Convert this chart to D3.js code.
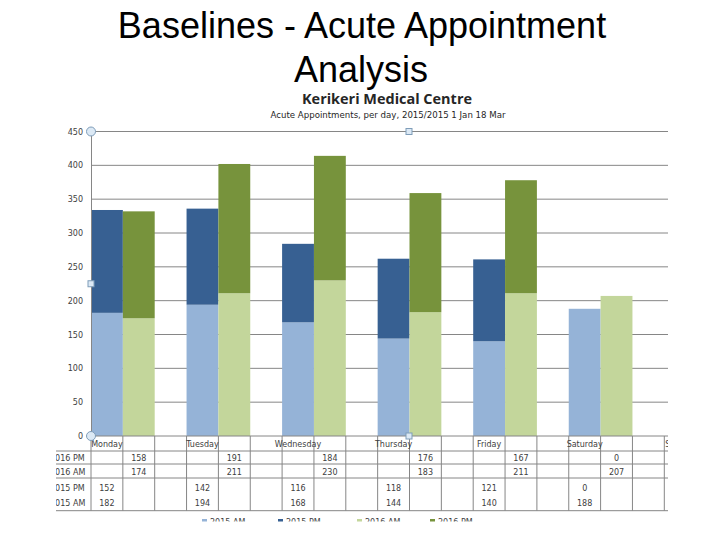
<!DOCTYPE html>
<html>
<head>
<meta charset="utf-8">
<script src="https://cdn.jsdelivr.net/npm/d3@7"></script>
<style>
  body { margin: 0; background: #fff; }
  svg { display: block; }
</style>
</head>
<body>
<svg id="chart" width="720" height="540"></svg>
<script>
// values
const days = ["Monday", "Tuesday", "Wednesday", "Thursday", "Friday", "Saturday", "Sunday"];
const am2015 = [182, 194, 168, 144, 140, 188, 0];
const pm2015 = [152, 142, 116, 118, 121, 0, 0];
const am2016 = [174, 211, 230, 183, 211, 207, 0];
const pm2016 = [158, 191, 184, 176, 167, 0, 0];
const seriesNames = ["2015 AM", "2015 PM", "2016 AM", "2016 PM"];
const yTicks = [0, 50, 100, 150, 200, 250, 300, 350, 400, 450];

const colors = {
    "2015 AM": "#95b3d7",
    "2015 PM": "#376092",
    "2016 AM": "#c3d69b",
    "2016 PM": "#77933c"
};

const svg = d3.select("#chart");

// slide title
svg.append("text")
    .attr("x", 362).attr("y", 38)
    .attr("text-anchor", "middle")
    .attr("font-family", "Liberation Sans, Arial, sans-serif")
    .attr("font-size", 36)
    .text("Baselines - Acute Appointment");
svg.append("text")
    .attr("x", 361).attr("y", 82)
    .attr("text-anchor", "middle")
    .attr("font-family", "Liberation Sans, Arial, sans-serif")
    .attr("font-size", 36)
    .text("Analysis");

// the pasted chart picture is cropped on the left, right and bottom
svg.append("clipPath").attr("id", "crop")
    .append("rect").attr("x", 56).attr("y", 85).attr("width", 612).attr("height", 436.5);

const g = svg.append("g").attr("clip-path", "url(#crop)");

g.append("text")
    .attr("x", 387).attr("y", 104)
    .attr("text-anchor", "middle")
    .attr("font-family", "Open Sans, sans-serif")
    .attr("font-weight", "bold")
    .attr("font-size", 13.5)
    .attr("fill", "#262626")
    .attr("textLength", 170).attr("lengthAdjust", "spacingAndGlyphs")
    .text("Kerikeri Medical Centre");
g.append("text")
    .attr("x", 388).attr("y", 118)
    .attr("text-anchor", "middle")
    .attr("font-family", "DejaVu Sans, sans-serif")
    .attr("font-size", 8)
    .attr("fill", "#262626")
    .attr("textLength", 235).attr("lengthAdjust", "spacingAndGlyphs")
    .text("Acute Appointments, per day, 2015/2015 1 Jan  18 Mar");

// three columns per day: 2015 bar, 2016 bar, empty gap
const cols = [];
days.forEach((d, i) => {
    cols.push({ day: i, kind: "2015" });
    cols.push({ day: i, kind: "2016" });
    cols.push({ day: i, kind: "gap" });
});
const colKey = (c) => c.day + "-" + c.kind;

const colW = 31.85;
const x = d3.scaleBand()
    .domain(cols.map(colKey))
    .range([91, 91 + cols.length * colW])
    .paddingInner(0).paddingOuter(0);

const y = d3.scaleLinear().domain([0, 450]).range([436, 131.5]);

const gridColor = "#868686";
const textColor = "#404040";
const font = "DejaVu Sans, sans-serif";

// gridlines
g.append("g")
    .selectAll("line")
    .data(yTicks.filter(t => t > 0))
    .join("line")
    .attr("x1", 91).attr("x2", 700)
    .attr("y1", d => y(d)).attr("y2", d => y(d))
    .attr("stroke", gridColor).attr("stroke-width", 1);

// stacked bars
const rows = days.map((d, i) => ({
    day: i,
    "2015 AM": am2015[i], "2015 PM": pm2015[i],
    "2016 AM": am2016[i], "2016 PM": pm2016[i]
}));

const stack2015 = d3.stack().keys(["2015 AM", "2015 PM"])(rows);
const stack2016 = d3.stack().keys(["2016 AM", "2016 PM"])(rows);

function drawStack(stacked, kind) {
    g.append("g")
        .selectAll("g")
        .data(stacked)
        .join("g")
        .attr("fill", s => colors[s.key])
        .selectAll("rect")
        .data(s => s)
        .join("rect")
        .attr("x", d => x(d.data.day + "-" + kind))
        .attr("width", x.bandwidth())
        .attr("y", d => y(d[1]))
        .attr("height", d => y(d[0]) - y(d[1]));
}
drawStack(stack2015, "2015");
drawStack(stack2016, "2016");

// y axis
const yAxis = d3.axisLeft(y).tickValues(yTicks).tickSize(0).tickPadding(8);
const ya = g.append("g").attr("transform", "translate(91,0)").call(yAxis);
ya.select(".domain").attr("stroke", gridColor);
ya.selectAll("text")
    .attr("font-family", font).attr("font-size", 8).attr("fill", textColor);

// data table under the plot
const tableTop = 436;
const rowLines = [436, 451, 464, 478, 510.7];
const table = g.append("g");

table.selectAll("line.h")
    .data(rowLines)
    .join("line")
    .attr("class", "h")
    .attr("x1", (d, i) => i === 0 ? 91 : 40).attr("x2", 700)
    .attr("y1", d => d).attr("y2", d => d)
    .attr("stroke", gridColor);

table.selectAll("line.v")
    .data(d3.range(cols.length + 1))
    .join("line")
    .attr("class", "v")
    .attr("x1", i => 91 + i * colW).attr("x2", i => 91 + i * colW)
    .attr("y1", tableTop).attr("y2", 510.7)
    .attr("stroke", gridColor);

// day labels centred on the first column of each day
table.selectAll("text.day")
    .data(days)
    .join("text")
    .attr("class", "day")
    .attr("x", (d, i) => x(i + "-2015") + x.bandwidth() / 2)
    .attr("y", 446.5)
    .attr("text-anchor", "middle")
    .attr("font-family", font).attr("font-size", 8).attr("fill", textColor)
    .text(d => d);

const tableRows = [
    { name: "2016 PM", values: pm2016, kind: "2016", y: 460.5 },
    { name: "2016 AM", values: am2016, kind: "2016", y: 474.5 },
    { name: "2015 PM", values: pm2015, kind: "2015", y: 490.5 },
    { name: "2015 AM", values: am2015, kind: "2015", y: 505.5 }
];

tableRows.forEach(r => {
    table.append("text")
        .attr("x", 50).attr("y", r.y)
        .attr("font-family", font).attr("font-size", 8).attr("fill", textColor)
        .text(r.name);
    table.selectAll(null)
        .data(r.values)
        .join("text")
        .attr("x", (v, i) => x(i + "-" + r.kind) + x.bandwidth() / 2)
        .attr("y", r.y)
        .attr("text-anchor", "middle")
        .attr("font-family", font).attr("font-size", 8).attr("fill", textColor)
        .text(v => v);
});

// legend, mostly cut off by the crop
const legendX = [202, 278, 357, 430];
const legend = g.append("g");
seriesNames.forEach((s, i) => {
    legend.append("rect")
        .attr("x", legendX[i]).attr("y", 519)
        .attr("width", 5).attr("height", 5)
        .attr("fill", colors[s]);
    legend.append("text")
        .attr("x", legendX[i] + 8).attr("y", 524.5)
        .attr("font-family", font).attr("font-size", 8).attr("fill", textColor)
        .text(s);
});

// selection handles left on the pasted chart
const handles = svg.append("g").attr("fill", "#dce9f5").attr("stroke", "#7f9db9");
[y(450), y(0)].forEach(v => {
    handles.append("circle").attr("cx", 91).attr("cy", v).attr("r", 4.5);
});
[[91, (y(450) + y(0)) / 2], [409, y(450)], [409, y(0)]].forEach(p => {
    handles.append("rect")
        .attr("x", p[0] - 3).attr("y", p[1] - 3)
        .attr("width", 6).attr("height", 6);
});
</script>
</body>
</html>
